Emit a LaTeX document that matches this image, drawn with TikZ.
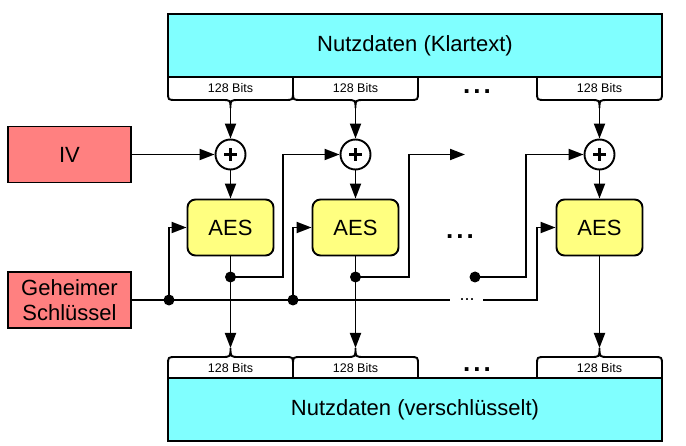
\documentclass[tikz,border=0pt]{standalone}
\usepackage{fontspec}
\setmainfont{Liberation Sans}
\usepackage{tikz}
\usetikzlibrary{arrows.meta}
\definecolor{datacyan}{HTML}{80FFFF}
\definecolor{inred}{HTML}{FF8080}
\definecolor{aesyellow}{HTML}{FFFF80}
\tikzset{
  wire/.style={line width=1.9pt},
  arr/.style={wire,-{Triangle[length=15pt,width=11pt]}},
  bigtxt/.style={font=\fontsize{22}{26}\selectfont},
  databox/.style={draw,line width=1.9pt,fill=datacyan,minimum width=494pt,minimum height=63pt,inner sep=0pt,bigtxt},
  inbox/.style={draw,line width=1.9pt,fill=inred,minimum width=123pt,minimum height=56pt,inner sep=0pt,align=center,bigtxt},
  aesbox/.style={draw,line width=1.9pt,fill=aesyellow,rounded corners=8pt,minimum width=86pt,minimum height=56pt,inner sep=0pt,bigtxt},
  xorc/.style={circle,draw,line width=1.9pt,fill=white,minimum size=30pt,inner sep=0pt,
    path picture={\draw[line width=2.2pt] ([xshift=-6.5pt]path picture bounding box.center) -- ([xshift=6.5pt]path picture bounding box.center)
      ([yshift=-6.5pt]path picture bounding box.center) -- ([yshift=6.5pt]path picture bounding box.center);}},
  jdot/.style={circle,fill=black,inner sep=0pt,minimum size=11pt},
  bitlbl/.style={inner sep=0pt,font=\fontsize{12.5}{14}\selectfont},
  bigdots/.style={anchor=base,inner sep=0pt,font=\bfseries\fontsize{26}{28}\selectfont},
}
\newcommand{\threedots}{.\hspace{3pt}.\hspace{3pt}.}
% #1 centre, #2 name of the tip
\newcommand{\bitstop}[2]{
  \draw[wire] ({#1-62.5},77) -- ({#1-62.5},92) .. controls ({#1-62.5},100) .. ({#1-54.5},100) -- ({#1-9},100)
    .. controls (#1,100) .. (#1,108) .. controls (#1,100) .. ({#1+9},100) -- ({#1+54.5},100)
    .. controls ({#1+62.5},100) .. ({#1+62.5},92) -- ({#1+62.5},77);
  \node[bitlbl] (#2lbl) at (#1,88) {128 Bits};
  \coordinate (#2) at (#1,108);
}
\newcommand{\bitsbot}[2]{
  \draw[wire] ({#1-62.5},378) -- ({#1-62.5},365) .. controls ({#1-62.5},357) .. ({#1-54.5},357) -- ({#1-9},357)
    .. controls (#1,357) .. (#1,348) .. controls (#1,357) .. ({#1+9},357) -- ({#1+54.5},357)
    .. controls ({#1+62.5},357) .. ({#1+62.5},365) -- ({#1+62.5},378);
  \node[bitlbl] (#2lbl) at (#1,368) {128 Bits};
  \coordinate (#2) at (#1,348);
}
\begin{document}
\begin{tikzpicture}[x=1pt,y=-1pt]
  \useasboundingbox (0,0) rectangle (686,446);
  % data blocks
  \node[databox] (plain) at (415,45.5) {Nutzdaten (Klartext)};
  \node[databox] (cipher) at (415,409.5) {Nutzdaten (verschlüsselt)};
  \bitstop{230.5}{t1}
  \bitstop{355.5}{t2}
  \bitstop{599.5}{t4}
  \bitsbot{230.5}{b1}
  \bitsbot{355.5}{b2}
  \bitsbot{599.5}{b4}
  \node[bigdots] (topdots) at (477,94) {\threedots};
  \node[bigdots] (botdots) at (477,372) {\threedots};
  \node[bigdots] (middots) at (460,239) {\threedots};

  % inputs
  \node[inbox] (iv) at (69.5,154.5) {IV};
  \node[inbox] (key) at (69.5,300) {Geheimer\\[-1pt]Schlüssel};

  % xor and aes
  \node[xorc] (x1) at (230.5,154.5) {};
  \node[xorc] (x2) at (355.5,154.5) {};
  \node[xorc] (x4) at (599.5,154.5) {};
  \node[aesbox] (a1) at (230.5,227.5) {AES};
  \node[aesbox] (a2) at (355.5,227.5) {AES};
  \node[aesbox] (a4) at (599.5,227.5) {AES};

  % junctions
  \node[jdot] (d1) at (230.5,277) {};
  \node[jdot] (d2) at (355.5,277) {};
  \node[jdot] (d3) at (475,277) {};
  \node[jdot] (k1) at (169,300) {};
  \node[jdot] (k2) at (293,300) {};
  \coordinate (gap) at (465,154.5);
  \coordinate (kgap1) at (450,300);
  \coordinate (kgap2) at (483,300);
  \node[anchor=base,inner sep=0pt,font=\fontsize{18}{20}\selectfont] (kdots) at (467,301) {...};

  % column wires
  \draw[arr] (iv) -- (x1);
  \foreach \c in {1,2,4}{
    \draw[arr] (t\c) -- (x\c);
    \draw[arr] (x\c) -- (a\c);
    \draw[arr] (a\c) -- (b\c);
  }
  % chaining
  \draw[arr] (d1.center) -| ([xshift=-57pt]x2.west) -- (x2.west);
  \draw[arr] (d2.center) -| ([xshift=-56pt]gap) -- (gap);
  \draw[arr] (d3.center) -| ([xshift=-57.5pt]x4.west) -- (x4.west);
  % key
  \draw[wire] (key.east) -- (kgap1);
  \draw[arr] (kgap2) -| ([xshift=-19pt]a4.west) -- (a4.west);
  \draw[arr] (k1.center) |- (a1.west);
  \draw[arr] (k2.center) |- (a2.west);
\end{tikzpicture}
\end{document}
